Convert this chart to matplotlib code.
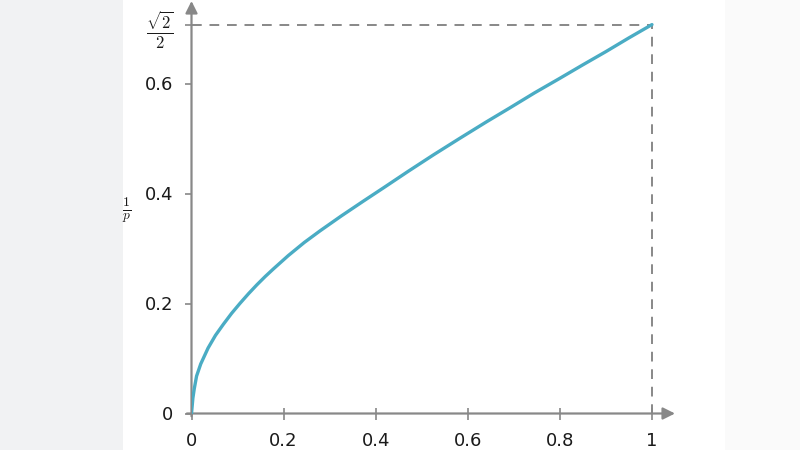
import numpy as np
import matplotlib
matplotlib.use('Agg')
from matplotlib import pyplot as plt
from matplotlib.patches import Rectangle

# points
xVals = [0, 0.003, 0.006, 0.011, 0.02, 0.036, 0.052, 0.069, 0.087, 0.105,
         0.124, 0.142, 0.16, 0.178, 0.21, 0.245, 0.279, 0.325, 0.373, 0.42,
         0.47, 0.525, 0.582, 0.64, 0.69, 0.745, 0.799, 0.85, 0.9, 0.95, 1.0]
yVals = [0, 0.028, 0.045, 0.068, 0.09, 0.119, 0.142, 0.162, 0.182, 0.2,
         0.218, 0.234, 0.249, 0.263, 0.287, 0.311, 0.332, 0.359, 0.386, 0.412,
         0.44, 0.47, 0.5, 0.53, 0.555, 0.583, 0.609, 0.634, 0.658, 0.683, 0.7071]

xTicks = [0, 0.2, 0.4, 0.6, 0.8, 1]
xTickLabels = ['0', '0.2', '0.4', '0.6', '0.8', '1']
yTicks = [0, 0.2, 0.4, 0.6, np.sqrt(2) / 2]
yTickLabels = ['0', '0.2', '0.4', '0.6', r'$\frac{\sqrt{2}}{2}$']

axCol = '#888888'
lineCol = '#4aacc4'
txtCol = '#1a1a1a'

plt.rcParams['mathtext.fontset'] = 'cm'

fig = plt.figure(figsize=(8, 4.5), dpi=100)
fig.patch.set_facecolor('white')
# blurred side panels of the page
fig.patches.append(Rectangle((0, 0), 123 / 800, 1, transform=fig.transFigure,
                             facecolor='#f1f2f3', edgecolor='none', zorder=0))
fig.patches.append(Rectangle((725 / 800, 0), 75 / 800, 1, transform=fig.transFigure,
                             facecolor='#fafafa', edgecolor='none', zorder=0))

ax = fig.add_axes([191.5 / 800, 36.5 / 450, 483.5 / 800, 412.5 / 450])
ax.set_facecolor('none')
ax.set_xlim(0, 1.05)
ax.set_ylim(0, 0.75)
for sp in ax.spines.values():
  sp.set_visible(False)

# axes with arrows
ax.annotate('', xy=(1.05, 0), xytext=(-0.01, 0),
            arrowprops=dict(arrowstyle='-|>', color=axCol, lw=1.6,
                            mutation_scale=18, shrinkA=0, shrinkB=0),
            annotation_clip=False)
ax.annotate('', xy=(0, 0.75), xytext=(0, -0.005),
            arrowprops=dict(arrowstyle='-|>', color=axCol, lw=1.6,
                            mutation_scale=18, shrinkA=0, shrinkB=0),
            annotation_clip=False)

# dashed guide lines
top = np.sqrt(2) / 2
ax.plot([0, 1], [top, top], ls=(0, (5, 4)), color=axCol, lw=1.4)
ax.plot([1, 1], [0, top], ls=(0, (5, 4)), color=axCol, lw=1.4)

ax.plot(xVals, yVals, color=lineCol, lw=2.4, solid_capstyle='round',
        solid_joinstyle='round', zorder=5)

ax.set_xticks(xTicks)
ax.set_xticklabels(xTickLabels)
ax.set_yticks(yTicks)
ax.set_yticklabels(yTickLabels)
ax.tick_params(axis='x', direction='inout', length=8, width=1.2, color=axCol,
               labelsize=13, pad=9, labelcolor=txtCol)
ax.tick_params(axis='y', direction='out', length=5, width=1.2, color=axCol,
               labelsize=13, pad=8, labelcolor=txtCol)
for lbl in ax.get_yticklabels():
  if 'sqrt' in lbl.get_text():
    lbl.set_fontsize(17)

fig.text(127 / 800, 1 - 210 / 450, r'$\frac{1}{p}$', fontsize=14,
         ha='center', va='center', color=txtCol)

fig.savefig('out.png', dpi=100, facecolor=fig.get_facecolor())
